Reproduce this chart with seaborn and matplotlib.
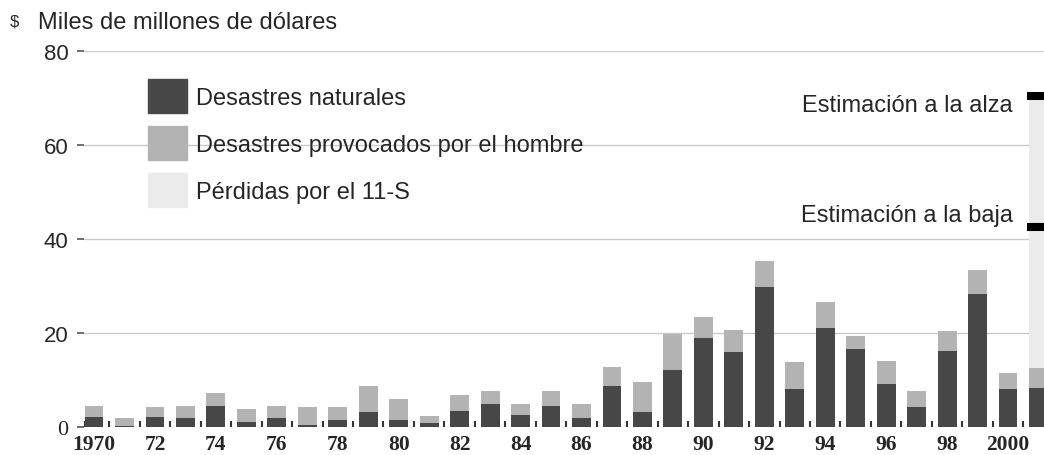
import matplotlib
matplotlib.use("Agg")
import matplotlib.pyplot as plt
from matplotlib.patches import Patch
import seaborn as sns

# Datos (miles de millones de dólares)
years = list(range(1970, 2002))
natural = [2.2, 0.3, 2.2, 1.9, 4.5, 1.1, 1.9, 0.4, 1.4, 3.1,
           1.4, 0.8, 3.5, 4.9, 2.5, 4.5, 1.9, 8.7, 3.1, 12.1,
           19.0, 15.9, 29.7, 8.0, 21.1, 16.6, 9.1, 4.2, 16.2, 28.3,
           8.0, 8.3]
man_made = [2.3, 1.6, 2.0, 2.6, 2.8, 2.7, 2.6, 3.8, 2.8, 5.6,
            4.6, 1.6, 3.4, 2.7, 2.4, 3.1, 3.0, 4.1, 6.5, 7.7,
            4.5, 4.8, 5.7, 5.8, 5.4, 2.7, 5.0, 3.4, 4.2, 5.0,
            3.4, 4.2]
sept11_low = 30.0
sept11_high = 58.0

xtick_years = years[::2]
xtick_labels = ["1970", "72", "74", "76", "78", "80", "82", "84", "86", "88",
                "90", "92", "94", "96", "98", "2000"]
yticks = [0, 20, 40, 60, 80]

legend_labels = ["Desastres naturales", "Desastres provocados por el hombre",
                 "Pérdidas por el 11-S"]

dark = "#474747"
mid = "#b3b3b3"
light = "#ebebeb"

sns.set_style("white")
plt.rcParams['font.family'] = ['Liberation Sans', 'DejaVu Sans']

total = [n + m for n, m in zip(natural, man_made)]
base_2001 = total[-1]

fig = plt.figure(figsize=(10.44, 4.56), dpi=100)
ax = fig.add_axes([84 / 1044, 28 / 456, 960 / 1044, 376 / 456])

bar_w = 0.62

# lineas de la grilla (no en cero)
for v in yticks[1:]:
    ax.axhline(v, color="#c9c9c9", linewidth=1, zorder=0)

# 11-S encima de 2001, luego totales, luego naturales
sns.barplot(x=[years[-1]], y=[base_2001 + sept11_high], color=light, width=bar_w,
            native_scale=True, saturation=1, linewidth=0, errorbar=None, ax=ax, zorder=2)
sns.barplot(x=years, y=total, color=mid, width=bar_w, native_scale=True,
            saturation=1, linewidth=0, errorbar=None, ax=ax, zorder=2)
sns.barplot(x=years, y=natural, color=dark, width=bar_w, native_scale=True,
            saturation=1, linewidth=0, errorbar=None, ax=ax, zorder=3)

# marcas de estimación
levels = [base_2001 + sept11_low, base_2001 + sept11_high]
x0 = years[-1] - bar_w / 2 - 0.08
ax.hlines(levels, x0, years[-1] + 1, colors="black", linewidth=5.8, zorder=4)
ax.annotate("Estimación a la alza", xy=(x0, levels[1]), xytext=(-10, -11),
            textcoords="offset points", ha="right", va="baseline", fontsize=17)
ax.annotate("Estimación a la baja", xy=(x0, levels[0]), xytext=(-10, 4.5),
            textcoords="offset points", ha="right", va="baseline", fontsize=17)

ax.set_xlim(years[0] - 0.33, years[-1] + 0.18)
ax.set_ylim(0, 80)
ax.set(xlabel="", ylabel="")
sns.despine(ax=ax, left=True, bottom=True)

ax.set_xticks(xtick_years, labels=xtick_labels)
ax.set_xticks([years[0] - bar_w / 2] + [y + 0.5 for y in years[:-1]], minor=True)
ax.tick_params(axis="x", which="major", bottom=True, length=0, pad=5, labelsize=15.5)
ax.tick_params(axis="x", which="minor", bottom=True, direction="in", length=4,
               width=1.5, color="#333333")
for lbl in ax.get_xticklabels():
    lbl.set_fontfamily("Liberation Serif")
    lbl.set_fontweight("bold")

ax.set_yticks(yticks, labels=[str(v) for v in yticks])
ax.tick_params(axis="y", left=True, direction="out", length=5, width=1.2,
               color="#555555", pad=6, labelsize=16)
for lbl in ax.get_yticklabels():
    lbl.set_fontfamily(["Liberation Sans Narrow", "Liberation Sans"])
ax.get_yticklabels()[0].set_fontfamily("Liberation Serif")

handles = [Patch(color=dark), Patch(color=mid), Patch(color=light)]
ax.legend(handles, legend_labels, loc="upper left", bbox_to_anchor=(0.0667, 0.925),
          frameon=False, fontsize=17, handlelength=1.67, handleheight=1.83,
          handletextpad=0.375, labelspacing=0.56, borderpad=0, borderaxespad=0)

fig.text(10 / 1044, 1 - 22 / 456, "$", fontsize=12, va="center",
         family=["Liberation Sans Narrow", "Liberation Sans"])
fig.text(38 / 1044, 1 - 23 / 456, "Miles de millones de dólares", fontsize=17, va="center")

fig.savefig("out.png", dpi=100)
